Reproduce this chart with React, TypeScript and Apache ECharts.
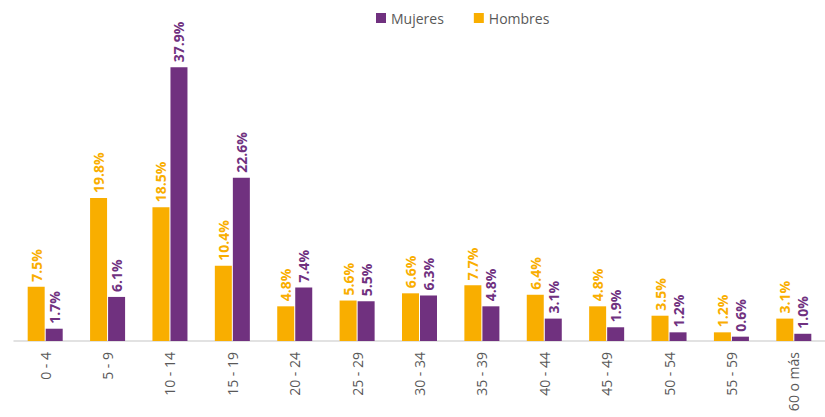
import React, { useEffect, useRef } from "react";
import * as echarts from "echarts";

const categories = ["0 - 4", "5 - 9", "10 - 14", "15 - 19", "20 - 24", "25 - 29", "30 - 34", "35 - 39", "40 - 44", "45 - 49", "50 - 54", "55 - 59", "60 o más"];
const hombres = [7.5, 19.8, 18.5, 10.4, 4.8, 5.6, 6.6, 7.7, 6.4, 4.8, 3.5, 1.2, 3.1];
const mujeres = [1.7, 6.1, 37.9, 22.6, 7.4, 5.5, 6.3, 4.8, 3.1, 1.9, 1.2, 0.6, 1.0];

const ORANGE = "#F9AE00";
const PURPLE = "#70317F";
const FONT = "'Open Sans', sans-serif";

export default function App() {
  const ref = useRef<HTMLDivElement>(null);
  useEffect(() => {
    const chart = echarts.init(ref.current!, null, { renderer: "svg" });
    const mkLabel = (color: string) => ({
      show: true,
      position: "top",
      rotate: 90,
      align: "left",
      verticalAlign: "middle",
      distance: 5,
      color,
      fontWeight: "bold",
      fontSize: 14,
      fontFamily: FONT,
      formatter: (p: any) => p.value.toFixed(1) + "%",
    });
    chart.setOption({
      animation: false,
      legend: {
        data: ["Mujeres", "Hombres"],
        top: 6,
        left: 371,
        itemWidth: 10,
        itemHeight: 10,
        itemGap: 30,
        icon: "rect",
        textStyle: { color: "#595959", fontSize: 14, fontFamily: FONT },
      },
      grid: { left: 14, right: 0, top: 52, bottom: 76, containLabel: false },
      xAxis: {
        type: "category",
        data: categories,
        axisLine: { lineStyle: { color: "#D9D9D9", width: 1.5 } },
        axisTick: { show: false },
        axisLabel: { rotate: 90, color: "#595959", fontSize: 14, fontFamily: FONT, margin: 11, interval: 0 },
      },
      yAxis: { type: "value", min: 0, max: 40, show: false, splitLine: { show: false } },
      series: [
        { name: "Hombres", type: "bar", data: hombres, barWidth: 17, barGap: "6%", itemStyle: { color: ORANGE }, label: mkLabel(ORANGE) },
        { name: "Mujeres", type: "bar", data: mujeres, barWidth: 17, barGap: "6%", itemStyle: { color: PURPLE }, label: mkLabel(PURPLE) },
      ],
    });
    return () => chart.dispose();
  }, []);
  return <div ref={ref} style={{ width: 825, height: 417, position: "absolute", left: 0, top: 0 }} />;
}
